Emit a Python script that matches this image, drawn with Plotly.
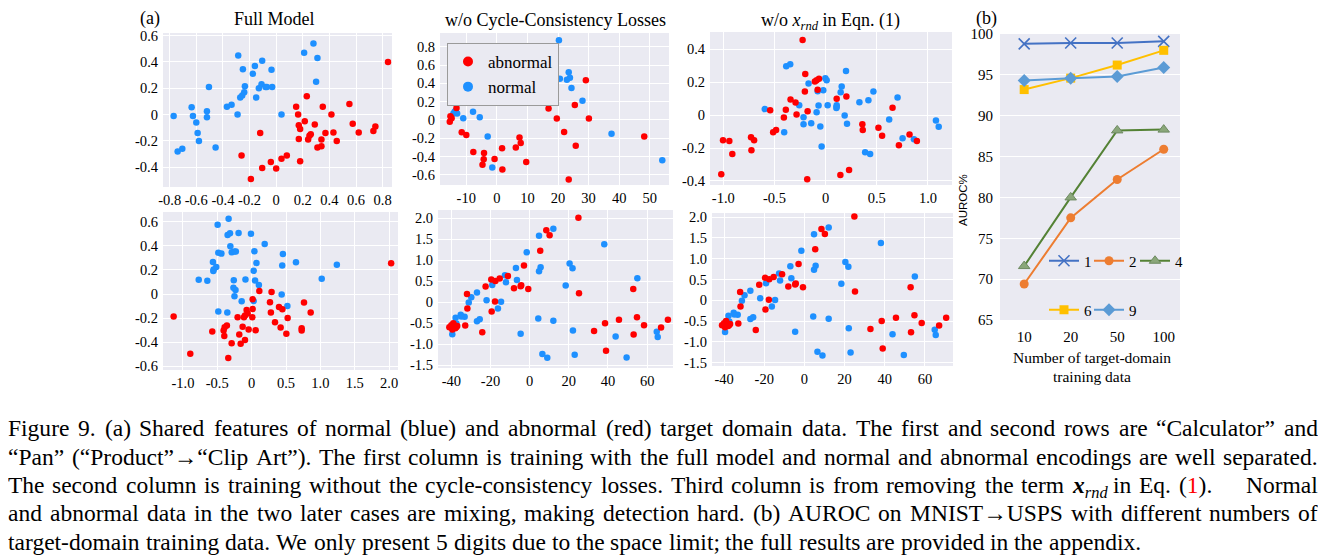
import re
import plotly.graph_objects as go

# the page body has an 8px margin: the figure is drawn starting at (8, 8)
OFF = 8
W, H = 1326 - OFF, 560 - OFF
BG = "#EAEAF2"
RED = "#FF0000"
BLUE = "#1E90FF"
SERIF = "Liberation Serif"

# ---------------- (a) scatter data ----------------
# Row 1 "Calculator" - Full Model
calc_full_abn_x = [0.84, -0.26, -0.19, -0.12, -0.105, -0.04, 0.0, 0.04, 0.08, 0.15, 0.165, 0.17, 0.18, 0.17, 0.18,
                   0.215, 0.23, 0.24, 0.25, 0.26, 0.29, 0.31, 0.34, 0.34, 0.35, 0.37, 0.415, 0.43, 0.455, 0.55,
                   0.575, 0.62, 0.73, 0.745]
calc_full_abn_y = [0.40, -0.31, -0.49, -0.14, -0.405, -0.36, -0.41, -0.335, -0.31, 0.06, 0.0, -0.08, -0.11, -0.185,
                   -0.355, -0.05, 0.14, -0.19, -0.16, -0.15, -0.075, -0.25, -0.24, -0.19, 0.06, -0.14, 0.0, -0.135,
                   -0.20, 0.08, -0.07, -0.135, -0.125, -0.09]
calc_full_nrm_x = [-0.77, -0.74, -0.705, -0.635, -0.625, -0.60, -0.59, -0.58, -0.52, -0.52, -0.505, -0.455, -0.37,
                   -0.335, -0.29, -0.285, -0.27, -0.255, -0.25, -0.24, -0.235, -0.175, -0.16, -0.15, -0.13, -0.11,
                   -0.105, -0.08, -0.07, -0.035, -0.03, 0.04, 0.21, 0.28, 0.30, 0.31]
calc_full_nrm_y = [-0.01, -0.28, -0.26, 0.055, -0.01, -0.06, -0.14, -0.20, 0.025, -0.02, 0.21, -0.25, 0.06, 0.075,
                   0.0, 0.45, 0.13, 0.145, 0.345, 0.17, 0.215, 0.31, 0.37, 0.13, 0.20, 0.23, 0.41, 0.21, 0.21, 0.34,
                   0.21, 0.0, 0.47, 0.54, 0.25, 0.43]

# Row 1 - w/o cycle-consistency losses
calc_nocyc_abn_x = [-13.2, -15.2, -14.8, -15.4, -11.5, -10.0, -7.7, -4.2, -4.3, -4.7, -0.75, 1.7, 1.8, 6.2, 7.4, 7.8,
                    9.6, 16.9, 17.2, 19.6, 22.0, 23.5, 25.5, 25.8, 29.1, 30.1, 48.2]
calc_nocyc_abn_y = [0.13, 0.04, 0.02, -0.02, -0.135, -0.165, -0.35, -0.36, -0.43, -0.49, -0.425, -0.31, -0.54, -0.30,
                    -0.19, -0.25, -0.46, 0.125, 0.21, 0.015, -0.13, -0.65, 0.165, -0.28, 0.435, 0.015, -0.18]
calc_nocyc_nrm_x = [20.3, 23.5, 20.6, 22.9, 23.9, 24.4, 28.0, 37.5, 54.1, -13.3, -13.8, -13.0, -14.2, -13.5, -11.0,
                    -7.8, -5.6, -3.0, -1.5]
calc_nocyc_nrm_y = [0.87, 0.52, 0.45, 0.44, 0.46, 0.35, 0.21, -0.15, -0.44, 0.08, 0.09, 0.07, 0.07, 0.10, 0.02,
                    0.09, 0.03, -0.18, -0.52]

# Row 1 - w/o x_rnd
calc_norand_abn_x = [-0.225, -1.02, -1.003, -0.941, -0.912, -0.729, -0.699, -0.725, -0.542, -0.513, -0.484, -0.408,
                     -0.389, -0.343, -0.294, -0.284, -0.199, -0.203, -0.18, -0.176, -0.105, -0.088, -0.065, -0.078,
                     0.108, 0.144, 0.203, 0.229, 0.359, 0.363, 0.516, 0.552, 0.654, 0.716, 0.82, 0.892]
calc_norand_abn_y = [0.457, -0.36, -0.152, -0.157, -0.236, -0.134, -0.152, -0.213, 0.030, -0.104, -0.091, -0.014,
                     0.033, 0.096, 0.077, 0.004, 0.25, 0.144, -0.39, 0.024, 0.205, 0.213, 0.222, 0.154, 0.10, -0.364,
                     0.114, -0.333, -0.055, -0.091, -0.077, -0.126, 0.045, -0.183, -0.118, -0.157]
calc_norand_nrm_x = [-0.595, -0.405, -0.385, -0.346, -0.258, -0.216, -0.216, -0.167, -0.141, -0.088, -0.078, -0.069,
                     -0.052, -0.039, -0.023, -0.003, 0.01, 0.02, 0.108, 0.108, 0.105, 0.147, 0.157, 0.186, 0.199,
                     0.209, 0.33, 0.386, 0.418, 0.435, 0.467, 0.621, 0.703, 0.752, 0.863, 1.078, 1.105]
calc_norand_nrm_y = [0.037, -0.104, 0.297, 0.309, 0.061, -0.012, -0.055, 0.193, -0.049, 0.018, 0.146, 0.059, -0.069,
                     -0.191, 0.152, 0.224, 0.213, 0.061, 0.051, 0.061, 0.043, 0.140, 0.175, -0.002, 0.268, -0.053,
                     0.079, -0.226, 0.091, -0.236, 0.144, -0.026, 0.108, -0.14, -0.146, -0.033, -0.071]

# Row 2 "Pan" - Full Model
pan_full_abn_x = [2.03, -1.135, -0.893, -0.573, -0.34, 0.112, 0.29, 0.267, 0.015, -0.073, -0.058, -0.097, -0.112,
                  -0.204, 0.015, 0.01, 0.28, 0.398, 0.447, 0.762, 0.859, 0.524, 0.34, 0.422, 0.505, 0.728, 0.728,
                  -0.36, -0.393, -0.408, -0.398, -0.131, -0.044, 0.058, -0.18, -0.291, -0.16, -0.097]
pan_full_abn_y = [0.255, -0.187, -0.495, -0.31, -0.53, 0.025, 0.016, -0.069, -0.044, -0.132, -0.162, -0.179, -0.192,
                  -0.192, -0.124, -0.192, -0.154, -0.107, -0.126, -0.071, -0.154, -0.198, -0.234, -0.277, -0.33,
                  -0.283, -0.302, -0.261, -0.275, -0.302, -0.349, -0.272, -0.294, -0.3, -0.335, -0.409, -0.412, -0.382]
pan_full_nrm_x = [-0.335, -0.495, -0.35, -0.315, -0.19, -0.01, -0.31, -0.485, -0.44, -0.29, -0.25, -0.23, 0.04, 0.19,
                  0.455, 0.645, 0.445, 1.24, -0.563, -0.515, -0.553, -0.558, 0.07, 0.03, -0.77, -0.645, -0.26, -0.09,
                  0.05, 0.105, 1.02, -0.265, -0.235, -0.25, -0.145, 0.03, 0.437, 0.52, -0.485, -0.354]
pan_full_nrm_y = [0.624, 0.574, 0.49, 0.503, 0.505, 0.50, 0.396, 0.343, 0.335, 0.346, 0.352, 0.352, 0.354, 0.415,
                  0.332, 0.264, 0.236, 0.242, 0.266, 0.225, 0.203, 0.19, 0.258, 0.192, 0.118, 0.11, 0.115, 0.121,
                  0.113, 0.074, 0.126, 0.052, 0.033, -0.019, -0.06, -0.058, -0.005, -0.1, -0.146, -0.154]

# Row 2 - both ablations (the same embedding appears in both panels)
pan_ablation_abn_x = [24.9, 8.5, 10.2, 5.4, -2.9, -0.7, -4.3, -4.6, -8.0, -11.1, -15.3, -17.5, -19.6, -22.5, -17.7,
                      -19.4, -32.0, -31.8, -32.9, -24.2, 25.2, 32.9, 38.5, 39.0, 45.6, 52.9, 53.1, 54.8, 58.4, 67.1,
                      70.6, -41.0, -39.5, -39.0, -38.0, -37.0, -39.5, -38.5, -40.0, -37.5]
pan_ablation_abn_y = [2.016, 1.714, 1.595, 1.23, 0.873, 0.317, 0.405, 0.381, 0.333, 0.627, 0.563, 0.508, 0.54,
                      0.373, 0.016, -0.222, 0.198, -0.151, -0.556, -0.714, 0.214, -0.69, -0.5, -1.159, -0.421, 0.317,
                      -0.77, -0.357, -0.548, -0.603, -0.421, -0.6, -0.58, -0.5, -0.62, -0.57, -0.65, -0.55, -0.55, -0.6]
pan_ablation_nrm_x = [12.1, 4.8, -1.5, 20.4, 21.9, 5.6, 4.8, -7.0, -6.5, -12.6, -12.1, -19.1, 18.4, 38.1, 55.0,
                      -26.9, -29.8, -22.0, -31.1, -14.6, -16.2, -37.8, -35.2, -33.2, -34.9, -26.9, -25.5, -37.4,
                      -39.5, -4.6, 4.4, 12.1, 22.1, 43.9, 64.9, 65.4, 49.5, 6.5, 9.0, 23.0]
pan_ablation_nrm_y = [1.754, 1.587, 1.19, 0.921, 0.81, 0.833, 0.738, 0.817, 0.532, 0.643, 0.476, 0.413, 0.397,
                      1.381, 0.571, 0.23, 0.119, 0.048, -0.008, 0.008, -0.151, -0.373, -0.302, -0.349, -0.341,
                      -0.452, -0.405, -0.508, -0.762, -0.754, -0.389, -0.444, -0.675, -0.817, -0.706, -0.833,
                      -1.317, -1.238, -1.325, -1.254]

# ---------------- (b) AUROC data ----------------
train_sizes = ["10", "20", "50", "100"]
auroc_1 = [98.8, 98.9, 98.9, 99.1]
auroc_2 = [69.4, 77.5, 82.2, 85.9]
auroc_4 = [71.6, 80.0, 88.2, 88.3]
auroc_6 = [93.2, 94.6, 96.2, 98.0]
auroc_9 = [94.3, 94.6, 94.8, 95.9]

XRND = "<b><i>x</i></b><sub><i>rnd</i></sub>"
RED1 = "(<span style='color:#FF0000'>1</span>)."
caption_lines = [
    "Figure 9.  (a) Shared features of normal (blue) and abnormal (red) target domain data.  The first and second rows are “Calculator” and",
    "“Pan” (“Product”→“Clip Art”). The first column is training with the full model and normal and abnormal encodings are well separated.",
    "The second column is training without the cycle-consistency losses.  Third column is from removing the term XRND in Eq. RED1  Normal",
    "and abnormal data in the two later cases are mixing, making detection hard.  (b) AUROC on MNIST→USPS with different numbers of",
    "target-domain training data. We only present 5 digits due to the space limit; the full results are provided in the appendix.",
]


def fx(px):
    return (px - OFF) / W


def fy(py):
    return 1 - (py - OFF) / H


def fmt(v, nd):
    if abs(v) < 1e-9:
        return "0"
    return f"{v:.{nd}f}"


def ticks(start, stop, step, nd):
    vals = []
    v = start
    while v <= stop + 1e-9:
        vals.append(round(v, 6))
        v += step
    return vals, [fmt(t, nd) for t in vals]


fig = go.Figure()

panels = [
    ((calc_full_abn_x, calc_full_abn_y, calc_full_nrm_x, calc_full_nrm_y), (163, 392, 33, 187),
     [-0.85, 0.87], [-0.55, 0.62], ticks(-0.8, 0.8, 0.2, 1), ticks(-0.4, 0.6, 0.2, 1)),
    ((calc_nocyc_abn_x, calc_nocyc_abn_y, calc_nocyc_nrm_x, calc_nocyc_nrm_y), (440, 669, 33, 185),
     [-18.6, 56.3], [-0.71, 0.95], ticks(-10, 50, 10, 0), ticks(-0.6, 0.8, 0.2, 1)),
    ((calc_norand_abn_x, calc_norand_abn_y, calc_norand_nrm_x, calc_norand_nrm_y), (710, 952, 32, 185),
     [-1.13, 1.235], [-0.425, 0.506], ticks(-1.0, 1.0, 0.5, 1), ticks(-0.4, 0.4, 0.2, 1)),
    ((pan_full_abn_x, pan_full_abn_y, pan_full_nrm_x, pan_full_nrm_y), (163, 398, 212, 370),
     [-1.29, 2.13], [-0.63, 0.68], ticks(-1.0, 2.0, 0.5, 1), ticks(-0.6, 0.6, 0.2, 1)),
    ((pan_ablation_abn_x, pan_ablation_abn_y, pan_ablation_nrm_x, pan_ablation_nrm_y), (438, 673, 210, 368),
     [-46.8, 73.2], [-1.57, 2.2], ticks(-40, 60, 20, 0), ticks(-1.5, 2.0, 0.5, 1)),
    ((pan_ablation_abn_x, pan_ablation_abn_y, pan_ablation_nrm_x, pan_ablation_nrm_y), (712, 953, 213, 366),
     [-46.0, 74.0], [-1.58, 2.1], ticks(-40, 60, 20, 0), ticks(-1.5, 2.0, 0.5, 1)),
]

layout = dict(
    width=W, height=H, margin=dict(l=0, r=0, t=0, b=0, autoexpand=False),
    paper_bgcolor="white", plot_bgcolor=BG,
    font=dict(family=SERIF, size=15, color="black"),
    showlegend=True,
)

for i, (data, box, xr, yr, xt, yt) in enumerate(panels):
    n = i + 1
    xa = "x" if n == 1 else f"x{n}"
    ya = "y" if n == 1 else f"y{n}"
    ax, ay, nx_, ny_ = data
    fig.add_trace(go.Scatter(x=nx_, y=ny_, mode="markers", xaxis=xa, yaxis=ya, showlegend=False,
                             marker=dict(color=BLUE, size=6.5, line=dict(width=0))))
    fig.add_trace(go.Scatter(x=ax, y=ay, mode="markers", xaxis=xa, yaxis=ya, showlegend=False,
                             marker=dict(color=RED, size=6.5, line=dict(width=0))))
    x0, x1, y0, y1 = box
    xkey = "xaxis" if n == 1 else f"xaxis{n}"
    ykey = "yaxis" if n == 1 else f"yaxis{n}"
    layout[xkey] = dict(domain=[fx(x0), fx(x1)], range=xr, anchor=ya, tickvals=xt[0], ticktext=xt[1],
                        showgrid=True, gridcolor="white", gridwidth=1, zeroline=False, showline=False,
                        ticks="", tickfont=dict(size=14.5, family=SERIF), ticklabelstandoff=2)
    layout[ykey] = dict(domain=[fy(y1), fy(y0)], range=yr, anchor=xa, tickvals=yt[0], ticktext=yt[1],
                        showgrid=True, gridcolor="white", gridwidth=1, zeroline=False, showline=False,
                        ticks="", tickfont=dict(size=14.5, family=SERIF), ticklabelstandoff=4)

# legend-only entries for the scatter legend (panel 2)
fig.add_trace(go.Scatter(x=[None], y=[None], mode="markers", name="abnormal", xaxis="x2", yaxis="y2",
                         marker=dict(color=RED, size=10), legend="legend"))
fig.add_trace(go.Scatter(x=[None], y=[None], mode="markers", name="normal", xaxis="x2", yaxis="y2",
                         marker=dict(color=BLUE, size=10), legend="legend"))

# ---------------- (b) line chart ----------------
xi = list(range(len(train_sizes)))
series = [
    ("1", auroc_1, "#4472C4", dict(symbol="x-thin-open", size=11, line=dict(width=1.6, color="#4472C4")), (1085, 261)),
    ("2", auroc_2, "#ED7D31", dict(symbol="circle", size=9), (1130, 261)),
    ("4", auroc_4, "#548235", dict(symbol="triangle-up", size=10, color="#8AA77A",
                                   line=dict(width=1, color="#6E8A62")), (1176, 261)),
    ("6", auroc_6, "#FFC000", dict(symbol="square", size=9), (1085, 310)),
    ("9", auroc_9, "#5B9BD5", dict(symbol="diamond", size=10), (1130, 310)),
]
for k, (name, vals, col, mk, (lx, ly)) in enumerate(series):
    m = dict(color=col)
    m.update(mk)
    lg = f"legend{k + 2}"
    fig.add_trace(go.Scatter(x=xi, y=vals, mode="lines+markers", name=name, xaxis="x7", yaxis="y7",
                             line=dict(color=col, width=2), marker=m, legend=lg))
    layout[lg] = dict(x=fx(lx - 41), y=fy(ly), xanchor="left", yanchor="middle", orientation="h",
                      bgcolor="rgba(0,0,0,0)", font=dict(size=15, family=SERIF), itemwidth=30)

layout["xaxis7"] = dict(domain=[fx(1000), fx(1180)], range=[-0.52, 3.35], anchor="y7", tickvals=xi,
                        ticktext=train_sizes, showgrid=False, zeroline=False, showline=False, ticks="",
                        tickfont=dict(size=15, family=SERIF), ticklabelstandoff=6)
layout["yaxis7"] = dict(domain=[fy(320), fy(34)], range=[65, 100], anchor="x7", dtick=5, tick0=65,
                        showgrid=True, gridcolor="white", gridwidth=1.2, zeroline=False, showline=False,
                        ticks="", tickfont=dict(size=15, family=SERIF), ticklabelstandoff=6)

layout["legend"] = dict(x=fx(447), y=fy(43), xanchor="left", yanchor="top", bgcolor=BG,
                        bordercolor="#9A9A9A", borderwidth=1, font=dict(size=17, family=SERIF),
                        itemwidth=30, tracegroupgap=0)

ann = []


def add_text(text, px, py, size, xanchor="center", yanchor="middle", family=SERIF, angle=0):
    ann.append(dict(text=text, x=fx(px), y=fy(py), xref="paper", yref="paper", showarrow=False,
                    xanchor=xanchor, yanchor=yanchor, textangle=angle, borderpad=0, borderwidth=0,
                    font=dict(size=size, family=family, color="black")))


add_text("(a)", 150, 8, 18, yanchor="top")
add_text("(b)", 987, 8, 18, yanchor="top")
add_text("Full Model", 274, 9, 18, yanchor="top")
add_text("w/o Cycle-Consistency Losses", 555, 10, 18, yanchor="top")
add_text("w/o <i>x</i><sub><i>rnd</i></sub> in Eqn. (1)", 830, 10, 18, yanchor="top")
add_text("AUROC%", 963, 200, 11.5, family="Liberation Sans", angle=-90)
add_text("Number of target-domain", 1092, 357, 15.5)
add_text("training data", 1092, 376, 15.5)

# ---------------- justified caption (word by word, Times metrics) ----------------
TIMES = {' ': 250, '(': 333, ')': 333, ',': 250, '-': 333, '.': 250, ':': 278, ';': 278, '%': 833,
         'A': 722, 'B': 667, 'C': 667, 'D': 722, 'E': 611, 'F': 556, 'G': 722, 'H': 722, 'I': 333, 'J': 389,
         'K': 722, 'L': 611, 'M': 889, 'N': 722, 'O': 722, 'P': 556, 'Q': 722, 'R': 667, 'S': 556, 'T': 611,
         'U': 722, 'V': 722, 'W': 944, 'X': 722, 'Y': 722, 'Z': 611,
         'a': 444, 'b': 500, 'c': 444, 'd': 500, 'e': 444, 'f': 333, 'g': 500, 'h': 500, 'i': 278, 'j': 278,
         'k': 500, 'l': 278, 'm': 778, 'n': 500, 'o': 500, 'p': 500, 'q': 500, 'r': 333, 's': 389, 't': 278,
         'u': 500, 'v': 500, 'w': 722, 'x': 500, 'y': 500, 'z': 444, '“': 444, '”': 444, '→': 1000}


def word_units(w):
    if w == "XRND":
        return 500 + 0.7 * 1300
    plain = re.sub(r"<[^>]+>", "", w)
    return sum(TIMES.get(c, 500) for c in plain)


CAP_LEFT, CAP_RIGHT = 8, 1318
CAP_LAST_END = 1141
caption_y = [428, 457, 485, 513, 542]
last_words = caption_lines[-1].split()
cap_size = (CAP_LAST_END - CAP_LEFT) * 1000 / (sum(word_units(w) for w in last_words) + 250 * (len(last_words) - 1))
cap_size = max(21.0, min(24.0, cap_size))

for li, (line, cy) in enumerate(zip(caption_lines, caption_y)):
    words = line.split()
    widths = [word_units(w) * cap_size / 1000 for w in words]
    if li < len(caption_lines) - 1:
        gap = (CAP_RIGHT - CAP_LEFT - sum(widths)) / (len(words) - 1)
    else:
        gap = 250 * cap_size / 1000
    xpos = CAP_LEFT
    for w, wd in zip(words, widths):
        txt = XRND if w == "XRND" else (RED1 if w == "RED1" else w)
        add_text(txt, xpos, cy - 13, cap_size, xanchor="left", yanchor="top")
        xpos += wd + gap

layout["annotations"] = ann
fig.update_layout(**layout)
fig.write_html("out.html")
